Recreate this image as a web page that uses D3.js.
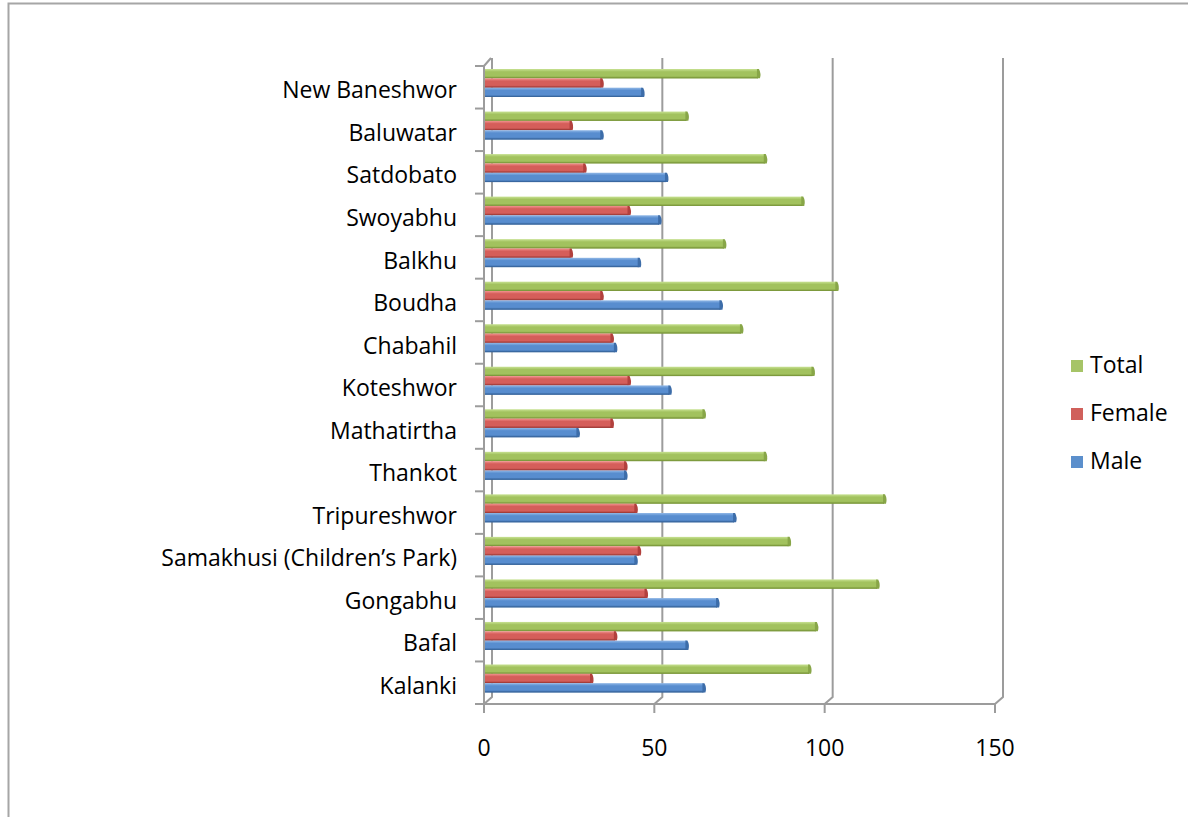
<!DOCTYPE html>
<html>
<head>
<meta charset="utf-8">
<script src="https://cdn.jsdelivr.net/npm/d3@7/dist/d3.min.js"></script>
<style>
  html, body { margin: 0; padding: 0; background: #fff; }
  svg { display: block; }
  text { font-family: "Open Sans", Lato, "Liberation Sans", sans-serif; fill: #000; }
</style>
</head>
<body>
<svg id="chart" width="1188" height="817"></svg>
<script>
// Sites, listed from top to bottom of the chart
const categories = [
  "New Baneshwor", "Baluwatar", "Satdobato", "Swoyabhu", "Balkhu",
  "Boudha", "Chabahil", "Koteshwor", "Mathatirtha", "Thankot",
  "Tripureshwor", "Samakhusi (Children’s Park)", "Gongabhu", "Bafal", "Kalanki"
];
const totalValues  = [81, 60, 83, 94, 71, 104, 76, 97, 65, 83, 118, 90, 116, 98, 96];
const femaleValues = [35, 26, 30, 43, 26, 35, 38, 43, 38, 42, 45, 46, 48, 39, 32];
const maleValues   = [47, 35, 54, 52, 46, 70, 39, 55, 28, 42, 74, 45, 69, 60, 65];
const seriesNames  = ["Total", "Female", "Male"];
const xTicks = [0, 50, 100, 150];

const seriesData = { Total: totalValues, Female: femaleValues, Male: maleValues };
const colors = {
  Total:  { top: "#c8e293", mid: "#a2c25e", bot: "#7c993c", cap: "#88a648", key: "#a6c467" },
  Female: { top: "#f29490", mid: "#d55e5a", bot: "#a23c39", cap: "#b2403d", key: "#d0605b" },
  Male:   { top: "#92b9e8", mid: "#588dcf", bot: "#38669d", cap: "#3d6da9", key: "#5b8fcc" }
};
const fontSize = 23;

const svg = d3.select("#chart");
const gridColor = "#9c9c9c";

// outer chart frame
svg.append("rect")
  .attr("x", 8.5).attr("y", 3.5)
  .attr("width", 1200).attr("height", 830)
  .attr("fill", "none").attr("stroke", "#a6a6a6").attr("stroke-width", 2);

const x = d3.scaleLinear().domain([0, 150]).range([484, 995]);
const y = d3.scaleBand().domain(categories).range([66, 704]);
const inner = d3.scaleBand().domain(seriesNames).range([3, 31]);
const depthX = 8, depthY = -7;
const floorY = 704;

// gradients for the bevelled bar faces
const defs = svg.append("defs");
seriesNames.forEach(s => {
  const g = defs.append("linearGradient")
    .attr("id", "grad-" + s).attr("x1", 0).attr("y1", 0).attr("x2", 0).attr("y2", 1);
  g.append("stop").attr("offset", "0%").attr("stop-color", colors[s].top);
  g.append("stop").attr("offset", "30%").attr("stop-color", colors[s].mid);
  g.append("stop").attr("offset", "75%").attr("stop-color", colors[s].mid);
  g.append("stop").attr("offset", "100%").attr("stop-color", colors[s].bot);
});

// back wall gridlines and floor edges
const walls = svg.append("g").attr("fill", "none").attr("stroke", gridColor).attr("stroke-width", 2);
xTicks.forEach(t => {
  const xf = x(t);
  walls.append("path")
    .attr("d", `M${xf},${floorY} L${xf + depthX},${floorY + depthY} L${xf + depthX},58`);
});
// floor front edge
walls.append("line").attr("x1", 475).attr("x2", x(150)).attr("y1", floorY).attr("y2", floorY);
// left wall front edge with its top corner
walls.append("path")
  .attr("d", `M${x(0) + depthX - 1},58 L${x(0)},${y.range()[0]} L${x(0)},713`);
// ticks on the category axis
categories.forEach(c => {
  walls.append("line")
    .attr("x1", 475).attr("x2", x(0))
    .attr("y1", y(c)).attr("y2", y(c));
});
// ticks on the value axis
xTicks.forEach(t => {
  walls.append("line").attr("x1", x(t)).attr("x2", x(t)).attr("y1", floorY).attr("y2", 713);
});

// bars
const bars = svg.append("g");
categories.forEach((c, i) => {
  seriesNames.forEach(s => {
    const v = seriesData[s][i];
    const y0 = y(c) + inner(s);
    const h = inner.bandwidth();
    const x0 = x(0) + 1, x1 = x(v);
    const g = bars.append("g");
    g.append("rect")
      .attr("x", x0).attr("y", y0)
      .attr("width", Math.max(0, x1 - x0 - 2)).attr("height", h)
      .attr("fill", `url(#grad-${s})`);
    // rounded end cap
    g.append("path")
      .attr("d", `M${x1 - 3},${y0} L${x1 - 1},${y0} Q${x1 + 1.5},${y0 + h / 2} ${x1},${y0 + h} L${x1 - 3},${y0 + h} Z`)
      .attr("fill", colors[s].cap);
    g.append("line")
      .attr("x1", x0).attr("x2", x1 - 2)
      .attr("y1", y0 + h - 0.5).attr("y2", y0 + h - 0.5)
      .attr("stroke", colors[s].bot).attr("stroke-width", 1).attr("opacity", 0.8);
  });
});

// category labels
svg.append("g").selectAll("text")
  .data(categories).join("text")
  .attr("x", 457)
  .attr("y", d => y(d) + y.bandwidth() / 2 + 5)
  .attr("text-anchor", "end")
  .attr("dominant-baseline", "middle")
  .attr("font-size", fontSize)
  .text(d => d);

// value axis labels
svg.append("g").selectAll("text")
  .data(xTicks).join("text")
  .attr("x", d => x(d))
  .attr("y", 750)
  .attr("text-anchor", "middle")
  .attr("dominant-baseline", "middle")
  .attr("font-size", fontSize)
  .text(d => d);

// legend
const legend = svg.append("g");
seriesNames.forEach((s, i) => {
  const ly = 366 + i * 48;
  legend.append("rect")
    .attr("x", 1071).attr("y", ly - 6)
    .attr("width", 12).attr("height", 12)
    .attr("fill", colors[s].key);
  legend.append("text")
    .attr("x", 1090).attr("y", ly + 1)
    .attr("dominant-baseline", "middle")
    .attr("font-size", fontSize)
    .text(s);
});
</script>
</body>
</html>
